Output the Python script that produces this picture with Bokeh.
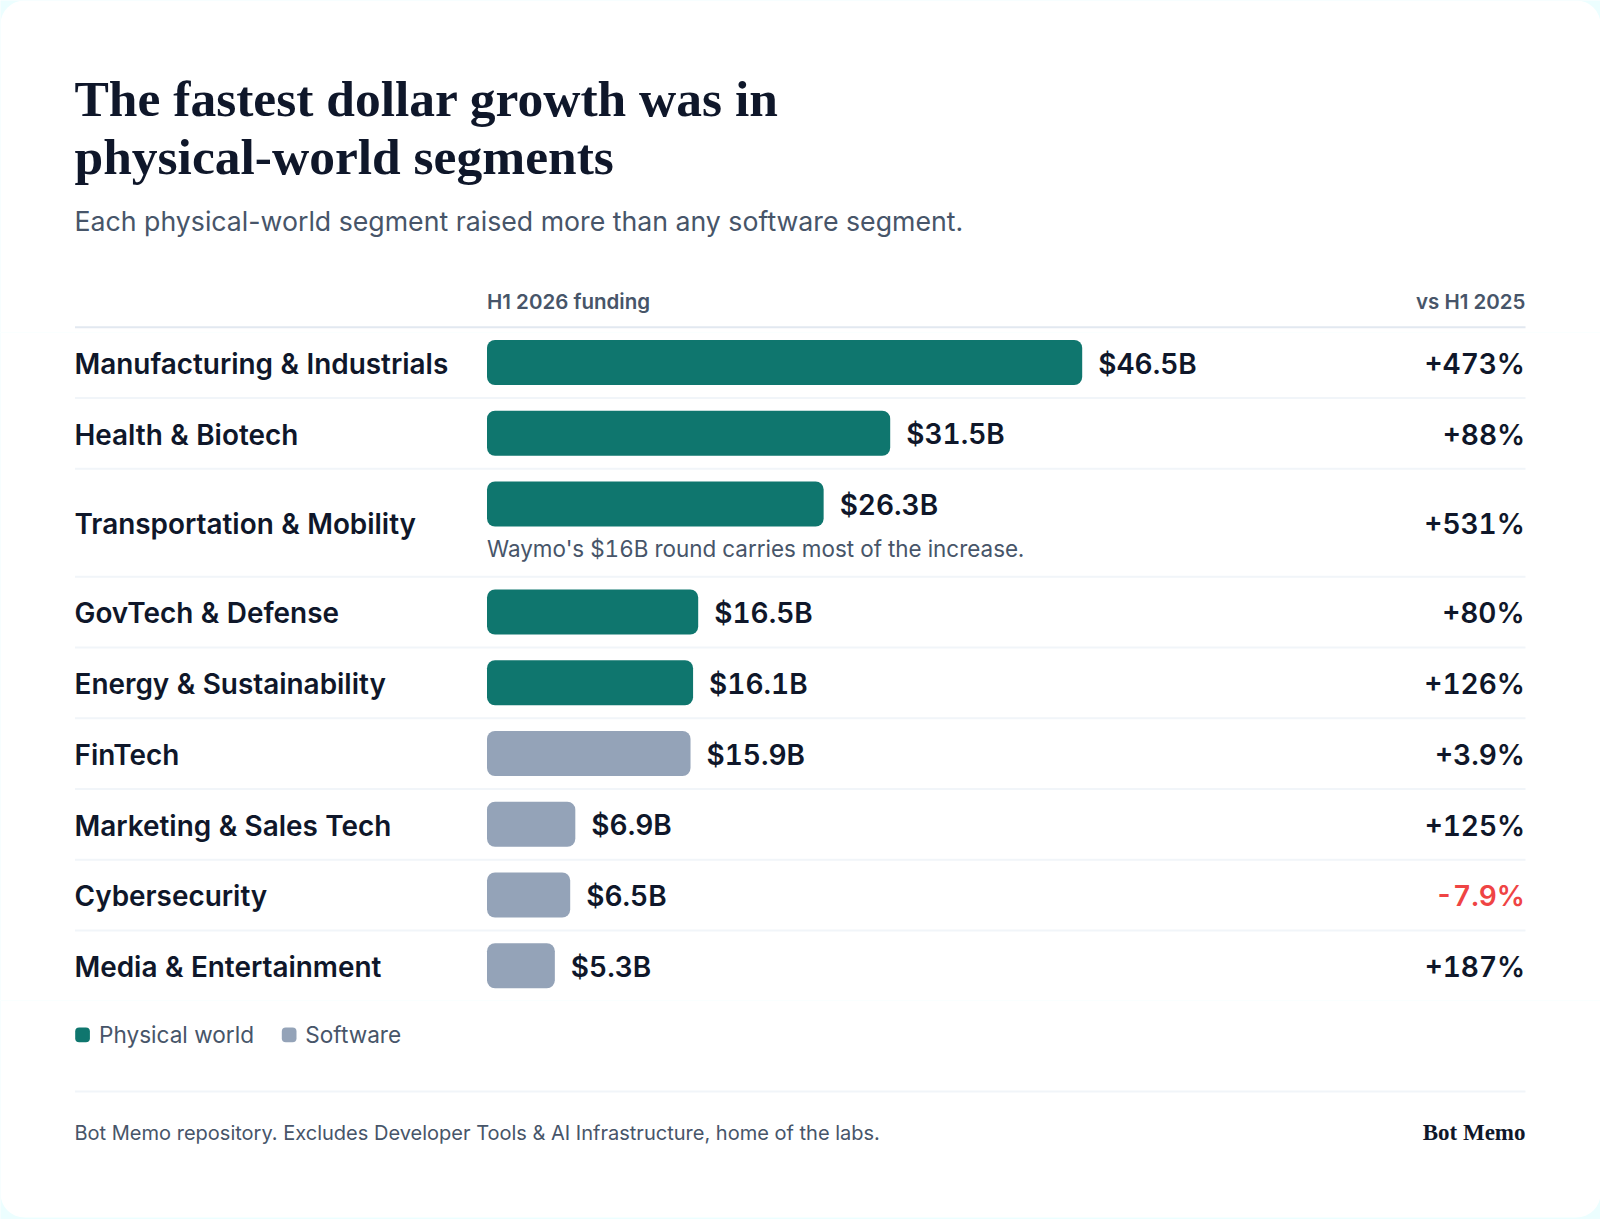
from bokeh.plotting import figure
from bokeh.layouts import column
from bokeh.models import Range1d, ColumnDataSource, LinearScale
from bokeh.core.properties import value
from bokeh.embed import file_html
from bokeh.resources import INLINE

# ---- data ----
categories = ["Manufacturing & Industrials", "Health & Biotech", "Transportation & Mobility",
              "GovTech & Defense", "Energy & Sustainability", "FinTech",
              "Marketing & Sales Tech", "Cybersecurity", "Media & Entertainment"]
funding = [46.5, 31.5, 26.3, 16.5, 16.1, 15.9, 6.9, 6.5, 5.3]
funding_labels = ["$46.5B", "$31.5B", "$26.3B", "$16.5B", "$16.1B", "$15.9B", "$6.9B", "$6.5B", "$5.3B"]
change_labels = ["+473%", "+88%", "+531%", "+80%", "+126%", "+3.9%", "+125%", "-7.9%", "+187%"]
segment = ["Physical world"] * 5 + ["Software"] * 4
title_lines = ["The fastest dollar growth was in", "physical-world segments"]
subtitle = "Each physical-world segment raised more than any software segment."
note = "Waymo's $16B round carries most of the increase."
footer = "Bot Memo repository. Excludes Developer Tools & AI Infrastructure, home of the labs."
brand = "Bot Memo"

# ---- style / layout ----
W, H = 1600, 1219
SPLIT_A, SPLIT_B = 332, 1000
TEAL, GREY, INK, SLATE, RED = "#0f766e", "#94a3b8", "#0f172a", "#475569", "#ef4444"
SEMI = "'Inter SemiBold', Inter"
SERIF = "Liberation Serif"
BAR_X0, PX_PER_B = 486.5, 12.8
LEFT, TEXT_LEFT, RIGHT = 74.5, 74, 1525
HEADER_Y = 326.8
ROW_H, NOTE_ROW_H = 70.75, 108
BAR_H = 45
BASE = 0.35   # baseline compensation, in em
TABULAR_EXTRA = {"1": 7.0, "-": 10.0, "4": 1.0, "7": 1.0}   # tabular figures are wider than measured

tops = []
y = HEADER_Y
for c in categories:
    tops.append(y)
    y += NOTE_ROW_H if c == categories[2] else ROW_H
bar_c = [t + 35.2 for t in tops]
row_c = [t + (NOTE_ROW_H if c == categories[2] else ROW_H) / 2 for t, c in zip(tops, categories)]


def band(y0, y1, **kw):
    f = figure(width=W, height=y1 - y0, output_backend="svg", toolbar_location=None,
               x_axis_location=None, y_axis_location=None, min_border=0,
               x_range=Range1d(-BAR_X0 / PX_PER_B, (W - BAR_X0) / PX_PER_B),
               y_range=Range1d(y1, y0),
               background_fill_color="#ecfeff", border_fill_color="#ecfeff", **kw)
    f.extra_x_ranges = {"px": Range1d(0, W)}
    f.extra_x_scales = {"px": LinearScale()}
    f.grid.visible = False
    f.outline_line_color = None
    f.quad(left=[0], right=[W], top=[0], bottom=[1217], x_range_name="px",
           fill_color="#ffffff", line_color=None, border_radius=24)
    return f


top = band(0, SPLIT_A)
mid = band(SPLIT_A, SPLIT_B, stylesheets=[":host { font-variant-numeric: tabular-nums; }"])
bot = band(SPLIT_B, H)


def txt(f, x, y, s, size, font="Inter", color=SLATE, align="left", style="normal"):
    f.text(x=[x], y=[y - BASE * size], text=[s], x_range_name="px", text_font=value(font),
           text_font_size=f"{size}px", text_color=color, text_align=align,
           text_baseline="alphabetic", text_font_style=style)


# header
txt(top, TEXT_LEFT, 115.7, title_lines[0], 51.5, SERIF, INK, style="bold")
txt(top, TEXT_LEFT, 174, title_lines[1], 51.5, SERIF, INK, style="bold")
txt(top, TEXT_LEFT, 229.7, subtitle, 26.7, "Inter", SLATE)
txt(top, BAR_X0, 308, "H1 2026 funding", 20.5, SEMI, SLATE)
txt(top, RIGHT, 308, "vs H1 2025", 20.5, SEMI, SLATE, align="right")
top.segment(x0=[LEFT], x1=[RIGHT], y0=[HEADER_Y], y1=[HEADER_Y], x_range_name="px",
            line_color="#e2e8f0", line_width=2)

# separators
mid.segment(x0=[LEFT] * 8, x1=[RIGHT] * 8, y0=tops[1:], y1=tops[1:], x_range_name="px",
            line_color="#f1f5f9", line_width=2)

# bars
src = ColumnDataSource(dict(
    y=bar_c, v=funding, zero=[0] * len(funding),
    color=[TEAL if s == "Physical world" else GREY for s in segment],
    label=funding_labels))
mid.hbar(y="y", left="zero", right="v", height=BAR_H, fill_color="color", line_color=None,
         border_radius=8, source=src)
mid.text(x="v", y="y", text="label", source=src, x_offset=16, y_offset=11 - BASE * 28,
         text_font=value(SEMI), text_font_size="28px", text_color=INK,
         text_align="left", text_baseline="alphabetic")

# row texts
for c, yc, ch in zip(categories, row_c, change_labels):
    shift = sum(TABULAR_EXTRA.get(k, 0) for k in ch)
    txt(mid, TEXT_LEFT, yc + 11, c, 27.9, SEMI, INK)
    txt(mid, RIGHT - shift, yc + 11, ch, 28, SEMI, RED if ch.startswith("-") else INK, align="right")
txt(mid, BAR_X0, 556, note, 22.45, "Inter", SLATE)

# legend
for (x0, name, tx) in [(74.7, "Physical world", 98.5), (281.3, "Software", 304.8)]:
    bot.quad(left=[x0], right=[x0 + 14.7], top=[1027], bottom=[1041.7], x_range_name="px",
             fill_color=TEAL if name == "Physical world" else GREY, line_color=None, border_radius=4)
    txt(bot, tx, 1042, name, 22.6, "Inter", SLATE)

# footer
bot.segment(x0=[LEFT], x1=[RIGHT], y0=[1091], y1=[1091], x_range_name="px",
            line_color="#f1f5f9", line_width=2)
txt(bot, TEXT_LEFT, 1139.5, footer, 20.02, "Inter", SLATE)
txt(bot, RIGHT, 1140, brand, 23, SERIF, INK, align="right", style="bold")

open("out.html", "w").write(file_html(column(top, mid, bot, spacing=0), INLINE))
